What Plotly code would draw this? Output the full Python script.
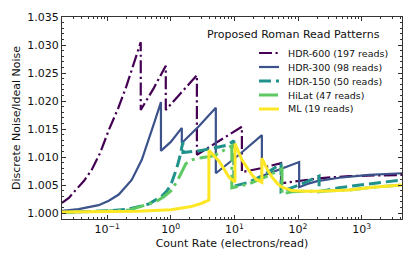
import plotly.graph_objects as go
import numpy as np

# ---------------- data ----------------
hdr600_x = [0.0195, 0.025, 0.032, 0.043, 0.057, 0.078, 0.106, 0.15, 0.2, 0.26, 0.337, 0.337, 0.54, 0.834, 0.834, 1.49, 2.57, 2.57,
            3.96, 6.8, 13.1, 13.1, 26, 54, 54, 104, 214, 635, 4300]
hdr600_y = [1.0018, 1.0027, 1.0041, 1.0057, 1.0077, 1.0108, 1.0148, 1.0188, 1.0226, 1.0264, 1.0305, 1.0184, 1.0223, 1.0263, 1.0184, 1.0216, 1.0246, 1.0104,
            1.0118, 1.0134, 1.0154, 1.0073, 1.0080, 1.0089, 1.0053, 1.0057, 1.0062, 1.0066, 1.0068]

hdr300_x = [0.0195, 0.0356, 0.0735, 0.106, 0.152, 0.243, 0.35, 0.45, 0.56, 0.70, 0.70, 1.0, 1.49, 1.49, 2.76, 5.1, 5.1,
            11.8, 27, 27, 37, 104, 104, 150, 200, 444, 1300, 4300]
hdr300_y = [1.0004, 1.0007, 1.0014, 1.0022, 1.0033, 1.0059, 1.0095, 1.0130, 1.0164, 1.0198, 1.0111, 1.0127, 1.0152, 1.0125, 1.0155, 1.0188, 1.0071,
            1.0104, 1.0139, 1.0066, 1.0072, 1.0091, 1.0046, 1.0053, 1.0057, 1.0063, 1.0068, 1.0071]

hdr150_x = [0.0195, 0.106, 0.218, 0.45, 0.72, 0.865, 1.0, 1.115, 1.24, 1.386, 1.55, 1.55, 2.76, 4.75, 7.6, 9.8, 9.8,
            16.9, 29, 54, 54, 104, 214, 214, 440, 1300, 4300]
hdr150_y = [1.0001, 1.0004, 1.0007, 1.0016, 1.0030, 1.0039, 1.0050, 1.0064, 1.0080, 1.0100, 1.0127, 1.0108, 1.0111, 1.0116, 1.0121, 1.0129, 1.0048,
            1.0055, 1.0068, 1.0088, 1.0038, 1.0050, 1.0066, 1.0038, 1.0045, 1.0052, 1.0059]

hilat_x = [0.0195, 0.218, 0.58, 0.776, 1.04, 1.34, 1.72, 2.14, 2.76, 4.75, 9.1, 9.1, 16.9, 29, 56, 56,
           80, 120, 214, 635, 1500, 4300]
hilat_y = [1.0001, 1.0005, 1.0020, 1.0029, 1.0041, 1.0063, 1.0088, 1.0095, 1.0098, 1.0102, 1.0120, 1.0045, 1.0052, 1.0063, 1.0079, 1.0034,
           1.0038, 1.0039, 1.0039, 1.0041, 1.0046, 1.0050]

ml_x = [0.0195, 0.1, 0.3, 1.0, 2.0, 3.0, 3.97, 3.97, 4.8, 5.7, 7.0, 8.2, 10.2, 10.2, 13.1, 16.0, 18.8, 22, 27, 27,
        33, 39, 47, 56, 80, 120, 214, 635, 1500, 4300]
ml_y = [1.0002, 1.0002, 1.0003, 1.0006, 1.0011, 1.0017, 1.0023, 1.0112, 1.0102, 1.0093, 1.0077, 1.0064, 1.0055, 1.0124, 1.0095, 1.0080, 1.0068, 1.0060, 1.0055, 1.0098,
        1.0077, 1.0064, 1.0053, 1.0046, 1.0040, 1.0039, 1.0039, 1.0041, 1.0046, 1.0050]

series_names = ["HDR-600 (197 reads)", "HDR-300 (98 reads)", "HDR-150 (50 reads)", "HiLat (47 reads)", "ML (19 reads)"]
legend_title = "Proposed Roman Read Patterns"
x_tick_vals = [0.1, 1, 10, 100, 1000]
x_tick_text = ["10<sup>−1</sup>", "10<sup>0</sup>", "10<sup>1</sup>", "10<sup>2</sup>", "10<sup>3</sup>"]
y_tick_vals = [1.000, 1.005, 1.010, 1.015, 1.020, 1.025, 1.030, 1.035]

# ---------------- styles ----------------
colors = ["#440154", "#3b528b", "#21918c", "#5ec962", "#fde725"]
widths = [2.2, 2.2, 3.0, 3.0, 3.0]
dashes = ["13px,3.5px,2.2px,3.5px", "solid", "12px,5px", "19px,5px,3px,5px", "solid"]
xs = [hdr600_x, hdr300_x, hdr150_x, hilat_x, ml_x]
ys = [hdr600_y, hdr300_y, hdr150_y, hilat_y, ml_y]

FONT = "DejaVu Sans"
fig = go.Figure()
for name, x, y, c, w, d in zip(series_names, xs, ys, colors, widths, dashes):
    fig.add_trace(go.Scatter(x=x, y=y, mode="lines", name=name,
                             line=dict(color=c, width=w, dash=d), showlegend=False))

# custom legend (matplotlib-like compact spacing)
L, R, T, B = 62, 402, 17, 219
def px2paper(px, py):
    return (px - L) / (R - L), (B - py) / (B - T)

tx, ty = px2paper(293, 35)
fig.add_annotation(x=tx, y=ty, xref="paper", yref="paper", text=legend_title, showarrow=False,
                   font=dict(family=FONT, size=11, color="#111"), xanchor="center", yanchor="middle")
for i, (name, c, w, d) in enumerate(zip(series_names, colors, widths, dashes)):
    py = 53 + 14 * i
    x0, yy = px2paper(259, py)
    x1, _ = px2paper(279, py)
    xt, _ = px2paper(286, py)
    fig.add_shape(type="line", xref="paper", yref="paper", x0=x0, x1=x1, y0=yy, y1=yy,
                  line=dict(color=c, width=w, dash=d))
    fig.add_annotation(x=xt, y=yy, xref="paper", yref="paper", text=name, showarrow=False,
                       font=dict(family=FONT, size=9.5, color="#111"), xanchor="left", yanchor="middle")

minor_x = [k * 10.0 ** n for n in range(-2, 4) for k in range(2, 10)]
minor_x = [v for v in minor_x if 0.0195 <= v <= 4300]

fig.update_layout(
    width=415, height=260,
    margin=dict(l=L, r=415 - R, t=T, b=260 - B),
    paper_bgcolor="white", plot_bgcolor="white",
    font=dict(family=FONT, size=11, color="#111"),
    xaxis=dict(type="log", range=[np.log10(0.0195), np.log10(4300)],
               tickvals=x_tick_vals, ticktext=x_tick_text,
               ticks="inside", ticklen=4, tickcolor="#333", tickwidth=1,
               showline=True, linecolor="#333", linewidth=1, mirror="allticks",
               showgrid=False, zeroline=False,
               minor=dict(tickvals=minor_x, ticks="inside", ticklen=2, tickcolor="#333", showgrid=False),
               title=dict(text="Count Rate (electrons/read)", font=dict(size=11), standoff=4),
               tickfont=dict(size=11)),
    yaxis=dict(range=[0.99893, 1.035], tickvals=y_tick_vals, tickformat=".3f",
               ticks="inside", ticklen=4, tickcolor="#333", tickwidth=1,
               showline=True, linecolor="#333", linewidth=1, mirror="allticks",
               showgrid=False, zeroline=False,
               minor=dict(dtick=0.001, ticks="inside", ticklen=2, tickcolor="#333", showgrid=False),
               title=dict(text="Discrete Noise/Ideal Noise", font=dict(size=11), standoff=4),
               tickfont=dict(size=11)),
)
fig.write_html("out.html", config={"displayModeBar": False},
               post_script="document.body.style.margin='0px';")
